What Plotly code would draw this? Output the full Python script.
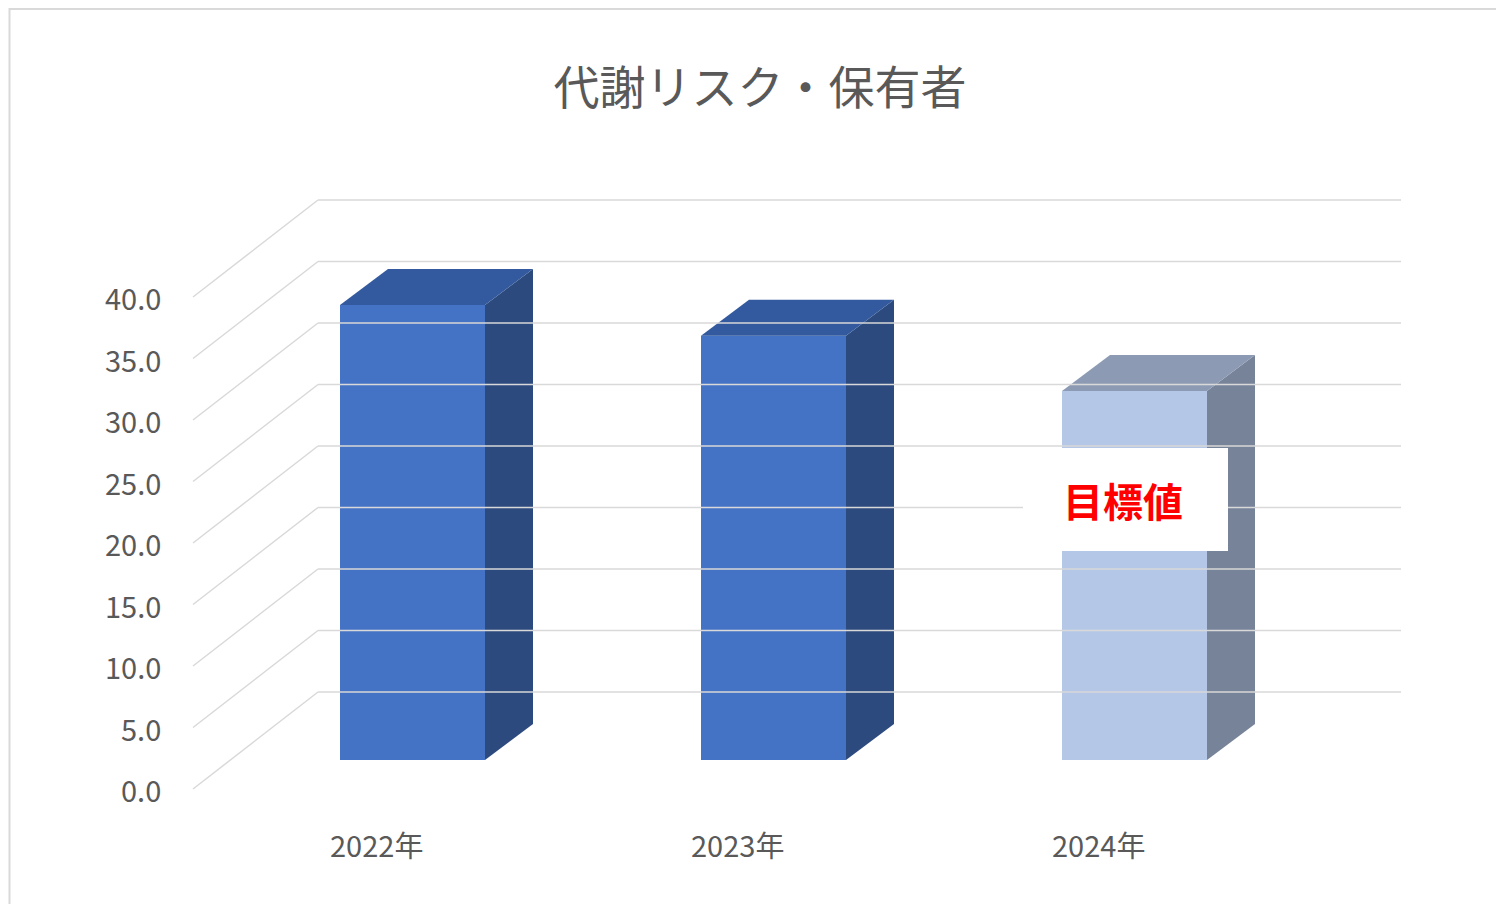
import plotly.graph_objects as go

# data
years = ['2022年', '2023年', '2024年']
values = [37.0, 34.5, 30.0]
ticks = [0, 5, 10, 15, 20, 25, 30, 35, 40]
front_colors = ['#4472C4', '#4472C4', '#B4C7E7']
side_colors = ['#2D4A7E', '#2D4A7E', '#768399']
top_colors = ['#335A9E', '#335A9E', '#8C9BB3']

# geometry (x axis in px, y axis in data units)
W, H = 1504, 904
PX = 12.3            # px per unit
Y0 = 781             # pixel row of value 0 at front
wall_dx, wall_dy = 125, 97 / PX
bar_base = (Y0 - 752) / PX
bar_dx, bar_dy = 48, 36 / PX
bar_w = 145
centers = [404.5 + 361 * i for i in range(len(years))]

fig = go.Figure()
grid = '#D9D9D9'
shapes = []
for t in ticks:
    shapes.append(dict(type='line', x0=185, y0=t, x1=185 + wall_dx, y1=t + wall_dy,
                       line=dict(color=grid, width=1.5)))
    shapes.append(dict(type='line', x0=185 + wall_dx, y0=t + wall_dy, x1=1393, y1=t + wall_dy,
                       line=dict(color=grid, width=1.5)))

fig.add_trace(go.Bar(x=centers, y=values, base=bar_base, width=bar_w,
                     marker=dict(color=front_colors, line=dict(width=0)),
                     hoverinfo='skip', showlegend=False))

for c, v, sc, tc in zip(centers, values, side_colors, top_colors):
    xl, xr = c - bar_w / 2, c + bar_w / 2
    top = v + bar_base
    fig.add_trace(go.Scatter(
        x=[xr, xr, xr + bar_dx, xr + bar_dx, xr],
        y=[bar_base, top, top + bar_dy, bar_base + bar_dy, bar_base],
        fill='toself', fillcolor=sc, mode='lines', line=dict(width=0),
        hoverinfo='skip', showlegend=False))
    fig.add_trace(go.Scatter(
        x=[xl, xr, xr + bar_dx, xl + bar_dx, xl],
        y=[top, top, top + bar_dy, top + bar_dy, top],
        fill='toself', fillcolor=tc, mode='lines', line=dict(width=0),
        hoverinfo='skip', showlegend=False))

annotations = []
for t in ticks:
    annotations.append(dict(x=155, y=t, text=f'{t:.1f}', showarrow=False, xanchor='right',
                            font=dict(size=29, color='#595959', family='Noto Sans CJK JP')))
for c, yr in zip(centers, years):
    annotations.append(dict(x=c - 36, y=(Y0 - 836) / PX, text=yr, showarrow=False,
                            font=dict(size=29, color='#595959', family='Noto Sans CJK JP')))

# target label box
shapes.append(dict(type='rect', x0=1015, x1=1220, y0=(Y0 - 543) / PX, y1=(Y0 - 440) / PX,
                   fillcolor='white', line=dict(width=0), layer='above'))
annotations.append(dict(x=1115, y=(Y0 - 492) / PX, text='<b>目標値</b>', showarrow=False,
                        font=dict(size=40, color='#FF0000', family='Noto Sans CJK JP')))

shapes.append(dict(type='rect', xref='paper', yref='paper', x0=0.001, x1=0.999, y0=0.001, y1=0.999,
                   line=dict(color='#D9D9D9', width=2)))

fig.update_layout(
    width=W, height=H,
    margin=dict(l=0, r=0, t=0, b=0),
    paper_bgcolor='white', plot_bgcolor='white',
    title=dict(text='代謝リスク・保有者', x=0.5, y=1 - 80 / H, xanchor='center', yanchor='middle',
               font=dict(size=46, color='#595959', family='Noto Sans CJK JP')),
    xaxis=dict(range=[0, W], visible=False, fixedrange=True),
    yaxis=dict(range=[(Y0 - H) / PX, Y0 / PX], visible=False, fixedrange=True),
    shapes=shapes, annotations=annotations,
)

fig.write_html('out.html')
